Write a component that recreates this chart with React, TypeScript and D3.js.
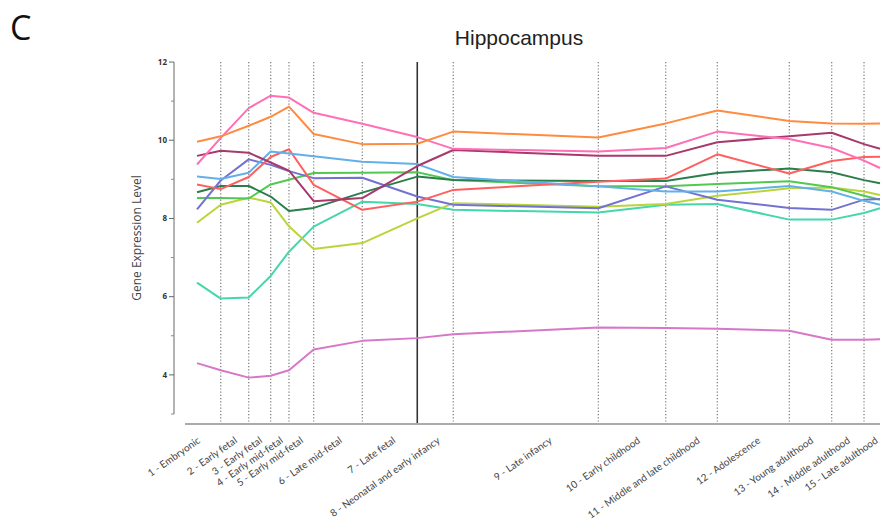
import React from "react";
import * as d3 from "d3";

// sample positions along the age axis (0..100)
const samplePos = [1.73, 5.14, 9.17, 12.33, 14.96, 18.52, 25.51, 33.42, 38.6, 59.47, 69.17, 76.59, 86.95, 93.05, 97.7, 100];
// period boundaries (dotted), birth line is solid
const boundaries = [5.14, 9.17, 12.33, 14.96, 18.52, 25.51, 38.6, 59.47, 69.17, 76.59, 86.95, 93.05, 97.7];
const birthLine = 33.42;

const periodLabels = [
  "1 - Embryonic",
  "2 - Early fetal",
  "3 - Early fetal",
  "4 - Early mid-fetal",
  "5 - Early mid-fetal",
  "6 - Late mid-fetal",
  "7 - Late fetal",
  "8 - Neonatal and early infancy",
  "9 - Late infancy",
  "10 - Early childhood",
  "11 - Middle and late childhood",
  "12 - Adolescence",
  "13 - Young adulthood",
  "14 - Middle adulthood",
  "15 - Late adulthood",
];
const labelPos = [2.3, 7.6, 11.2, 14.2, 17.1, 22.7, 30.4, 36.8, 52.9, 65.6, 74.2, 82.9, 90.5, 95.8, 99.8];

const yMajor = [4, 6, 8, 10, 12];
const yMinor = [3, 5, 7, 9, 11];

const orange = [9.96, 10.1, 10.37, 10.6, 10.86, 10.16, 9.9, 9.91, 10.22, 10.07, 10.43, 10.76, 10.49, 10.43, 10.42, 10.43];
const pink = [9.38, 10.06, 10.82, 11.14, 11.09, 10.7, 10.42, 10.08, 9.78, 9.71, 9.8, 10.22, 10.03, 9.8, 9.48, 9.29];
const maroon = [9.6, 9.73, 9.68, 9.43, 9.22, 8.44, 8.52, 9.34, 9.75, 9.6, 9.6, 9.95, 10.1, 10.19, 9.9, 9.78];
const lightBlue = [9.07, 9.01, 9.17, 9.71, 9.66, 9.59, 9.45, 9.39, 9.06, 8.82, 8.69, 8.69, 8.83, 8.69, 8.45, 8.35];
const red = [8.87, 8.75, 9.06, 9.57, 9.77, 8.86, 8.22, 8.43, 8.73, 8.94, 9.02, 9.64, 9.15, 9.47, 9.57, 9.58];
const purple = [8.23, 8.97, 9.51, 9.37, 9.21, 9.03, 9.04, 8.56, 8.35, 8.26, 8.82, 8.48, 8.27, 8.22, 8.48, 8.5];
const green = [8.52, 8.52, 8.51, 8.87, 8.99, 9.16, 9.17, 9.18, 8.98, 8.82, 8.82, 8.88, 8.95, 8.8, 8.58, 8.48];
const darkGreen = [8.67, 8.83, 8.83, 8.56, 8.19, 8.27, 8.66, 9.07, 8.98, 8.96, 8.96, 9.16, 9.28, 9.18, 8.98, 8.9];
const yellowGreen = [7.89, 8.35, 8.53, 8.41, 7.8, 7.22, 7.37, 8.0, 8.39, 8.3, 8.37, 8.58, 8.77, 8.79, 8.69, 8.6];
const turquoise = [6.36, 5.95, 5.98, 6.53, 7.15, 7.79, 8.43, 8.37, 8.22, 8.15, 8.35, 8.37, 7.97, 7.97, 8.14, 8.26];
const orchid = [4.3, 4.12, 3.93, 3.98, 4.12, 4.65, 4.87, 4.94, 5.04, 5.21, 5.2, 5.18, 5.13, 4.9, 4.9, 4.91];

const series = [
  { values: orchid, color: "#d777c8" },
  { values: turquoise, color: "#45d6ab" },
  { values: yellowGreen, color: "#b9d53a" },
  { values: green, color: "#52c852" },
  { values: darkGreen, color: "#2b7d4b" },
  { values: purple, color: "#7272d2" },
  { values: red, color: "#ff5f5f" },
  { values: lightBlue, color: "#62b0e8" },
  { values: maroon, color: "#a63a6c" },
  { values: pink, color: "#ff6fb6" },
  { values: orange, color: "#ff8b40" },
];

const W = 883;
const H = 530;
const axisX = 174;
const axisBottom = 424;

export default function App() {
  const x = d3.scaleLinear().domain([0, 100]).range([185, 880]);
  const y = d3.scaleLinear().domain([3, 12]).range([414, 62]);
  const line = d3
    .line<number>()
    .x((_, i) => x(samplePos[i]))
    .y((d) => y(d));

  const font = "'Open Sans', 'Liberation Sans', sans-serif";

  return (
    <svg width={W} height={H} style={{ position: "absolute", left: 0, top: 0, background: "#fff" }}>
      <text x={10} y={40} fontSize={34} fontFamily={font} fill="#111">C</text>
      <text x={519} y={45} textAnchor="middle" fontSize={21} fontFamily="'Liberation Sans', Arial, sans-serif" fill="#222">
        Hippocampus
      </text>

      {/* period boundaries */}
      {boundaries.map((b) => (
        <line key={b} x1={x(b)} x2={x(b)} y1={y(12)} y2={axisBottom} stroke="#777" strokeWidth={1.2} strokeDasharray="1.2,2" />
      ))}
      <line x1={x(birthLine)} x2={x(birthLine)} y1={y(12)} y2={axisBottom} stroke="#333" strokeWidth={1.6} />

      {/* x axis */}
      <line x1={x(0)} x2={x(100)} y1={axisBottom} y2={axisBottom} stroke="#aaa" strokeWidth={2} />
      {periodLabels.map((l, i) => (
        <text
          key={l}
          transform={`translate(${x(labelPos[i])},${axisBottom + 18}) rotate(-35)`}
          textAnchor="end"
          fontSize={10}
          fontFamily="Lato, 'Open Sans', sans-serif"
          fill="#444"
        >
          {l}
        </text>
      ))}

      {/* y axis */}
      <line x1={axisX} x2={axisX} y1={y(12)} y2={y(3)} stroke="#666" strokeWidth={1} />
      {yMajor.map((v) => (
        <g key={v}>
          <line x1={axisX - 5} x2={axisX} y1={y(v)} y2={y(v)} stroke="#666" />
          <text x={axisX - 7} y={y(v)} dy="0.35em" textAnchor="end" fontSize={8} fontWeight="bold" fontFamily={font} fill="#333">
            {v}
          </text>
        </g>
      ))}
      {yMinor.map((v) => (
        <line key={v} x1={axisX - 3} x2={axisX} y1={y(v)} y2={y(v)} stroke="#888" />
      ))}
      <text
        transform={`translate(141,${238}) rotate(-90)`}
        textAnchor="middle"
        fontSize={12}
        fontFamily={font}
        fill="#444"
      >
        Gene Expression Level
      </text>

      {/* expression lines */}
      {series.map((s, i) => (
        <path key={i} d={line(s.values) ?? ""} fill="none" stroke={s.color} strokeWidth={2} strokeLinejoin="round" />
      ))}
    </svg>
  );
}
